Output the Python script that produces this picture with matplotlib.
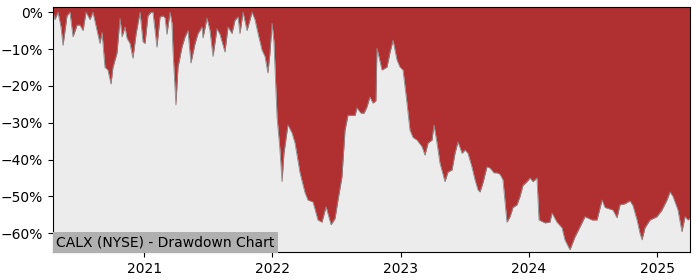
import pandas as pd
import matplotlib
matplotlib.use("Agg")
import matplotlib.pyplot as plt
import matplotlib.dates as mdates
import matplotlib.ticker as mtick

# drawdown: decimal year -> drawdown in %
years = [
    2020.291, 2020.306, 2020.330, 2020.353, 2020.369, 2020.400, 2020.423, 2020.447,
    2020.478, 2020.501, 2020.525, 2020.548, 2020.579, 2020.602, 2020.634, 2020.657,
    2020.673, 2020.696, 2020.719, 2020.743, 2020.758, 2020.790, 2020.813, 2020.829,
    2020.852, 2020.867, 2020.891, 2020.914, 2020.938, 2020.969, 2020.992, 2021.008,
    2021.031, 2021.055, 2021.070, 2021.101, 2021.125, 2021.148, 2021.164, 2021.179,
    2021.203, 2021.218, 2021.226, 2021.249, 2021.265, 2021.296, 2021.320, 2021.343,
    2021.366, 2021.398, 2021.421, 2021.452, 2021.460, 2021.491, 2021.514, 2021.538,
    2021.569, 2021.592, 2021.631, 2021.655, 2021.686, 2021.709, 2021.733, 2021.748,
    2021.772, 2021.803, 2021.842, 2021.865, 2021.889, 2021.920, 2021.943, 2021.966,
    2021.982, 2021.998, 2022.013, 2022.037, 2022.060, 2022.076, 2022.091, 2022.122,
    2022.154, 2022.177, 2022.216, 2022.255, 2022.278, 2022.317, 2022.356, 2022.387,
    2022.419, 2022.458, 2022.489, 2022.512, 2022.543, 2022.567, 2022.590, 2022.621,
    2022.645, 2022.660, 2022.691, 2022.715, 2022.738, 2022.761, 2022.785, 2022.808,
    2022.816, 2022.855, 2022.894, 2022.917, 2022.941, 2022.972, 2022.995, 2023.019,
    2023.050, 2023.073, 2023.097, 2023.128, 2023.167, 2023.190, 2023.214, 2023.245,
    2023.260, 2023.284, 2023.307, 2023.346, 2023.369, 2023.401, 2023.424, 2023.447,
    2023.479, 2023.502, 2023.525, 2023.556, 2023.580, 2023.603, 2023.619, 2023.642,
    2023.673, 2023.697, 2023.728, 2023.751, 2023.775, 2023.798, 2023.829, 2023.853,
    2023.876, 2023.907, 2023.931, 2023.954, 2023.985, 2024.009, 2024.032, 2024.063,
    2024.079, 2024.126, 2024.164, 2024.180, 2024.219, 2024.258, 2024.281, 2024.320,
    2024.359, 2024.398, 2024.437, 2024.492, 2024.531, 2024.570, 2024.593, 2024.655,
    2024.687, 2024.710, 2024.749, 2024.788, 2024.811, 2024.843, 2024.866, 2024.882,
    2024.905, 2024.944, 2024.998, 2025.037, 2025.076, 2025.100, 2025.123, 2025.162,
    2025.193, 2025.217, 2025.240, 2025.256,
]
drawdown = [
    0.0, -2.0, 0.0, -4.0, -9.0, -1.0, 0.0, -6.7,
    -3.5, -3.5, -5.0, 0.0, -2.0, 0.0, -5.0, -8.5,
    -5.5, -15.0, -15.7, -19.5, -15.0, -11.0, -1.7, -6.7,
    -4.0, -7.0, -8.5, -12.5, -6.0, 0.0, -8.0, -8.5,
    -1.0, 0.0, 0.0, -9.5, -1.3, -1.0, -1.5, -6.0,
    0.0, -3.0, -10.3, -25.2, -15.0, -9.5, -6.7, -5.0,
    -13.8, -8.5, -5.8, -4.0, -7.0, -1.6, -4.9, -12.0,
    -4.5, -6.0, -10.8, -4.0, -5.8, -2.2, -1.3, -5.8,
    0.0, -5.0, 0.0, -2.0, -5.8, -10.3, -12.0, -16.5,
    -11.0, -3.0, -8.0, -28.4, -37.4, -46.0, -38.3, -30.6,
    -32.8, -35.5, -43.6, -49.0, -51.0, -51.5, -56.4, -57.0,
    -52.8, -57.7, -56.0, -51.0, -44.7, -32.0, -28.0, -28.0,
    -28.0, -26.0, -27.4, -27.4, -25.7, -23.0, -24.7, -24.0,
    -9.8, -15.7, -14.9, -11.0, -7.6, -13.0, -14.9, -15.7,
    -24.7, -32.0, -34.0, -34.7, -36.5, -38.8, -35.5, -34.7,
    -30.6, -35.5, -41.0, -46.0, -43.4, -42.8, -38.3, -35.2,
    -38.3, -37.4, -38.3, -42.0, -45.5, -48.2, -48.8, -46.3,
    -42.0, -42.3, -43.6, -43.6, -44.0, -45.5, -57.0, -55.5,
    -53.0, -52.3, -50.0, -47.0, -46.0, -45.0, -46.0, -45.0,
    -56.4, -57.2, -57.0, -54.5, -57.0, -58.5, -61.8, -64.5,
    -61.0, -58.3, -55.5, -56.4, -56.4, -51.0, -53.0, -53.7,
    -55.8, -52.3, -52.0, -51.2, -52.5, -56.4, -60.0, -61.8,
    -58.5, -56.4, -55.5, -53.7, -51.0, -48.8, -50.0, -53.7,
    -59.6, -55.5, -56.4, -56.0,
]
title = "CALX (NYSE) - Drawdown Chart"

dates = pd.Timestamp("2020-01-01") + pd.to_timedelta(
    [(y - 2020) * 365.25 for y in years], unit="D")

fig = plt.figure(figsize=(7, 2.8), dpi=100)
ax = fig.add_axes([0.0757, 0.1, 0.91, 0.875])
ax.set_facecolor("#ececec")

top = 1.4
ax.fill_between(dates, drawdown, top, color="#b03032", linewidth=0)
ax.plot(dates, drawdown, color="#8a8a8a", linewidth=0.6)

ax.set_xlim(dates[0], dates[-1])
ax.set_ylim(-65.1, top)
ax.set_yticks([0, -10, -20, -30, -40, -50, -60])
ax.yaxis.set_major_formatter(mtick.PercentFormatter(decimals=0))
ax.xaxis.set_major_locator(mdates.YearLocator())
ax.xaxis.set_major_formatter(mdates.DateFormatter("%Y"))

ax.text(0.005, 0.012, title, transform=ax.transAxes, fontsize=10,
        ha="left", va="bottom",
        bbox=dict(facecolor="#b0b0b0", edgecolor="none", pad=2.5))

fig.savefig("out.png", dpi=100)
